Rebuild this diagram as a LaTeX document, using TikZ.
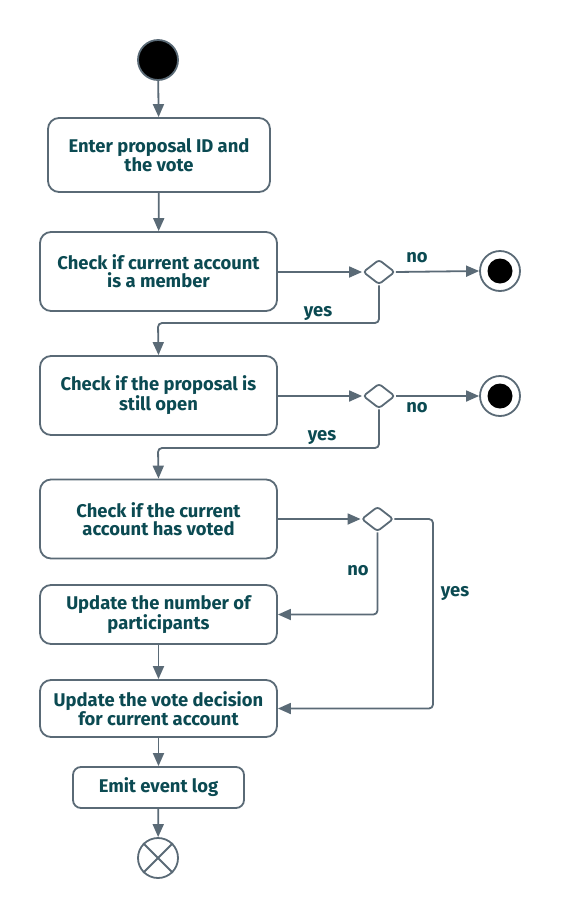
\documentclass[tikz,border=0pt]{standalone}
\usepackage{fontspec}
\setmainfont{Fira Sans}
\usetikzlibrary{arrows.meta,shapes.geometric}
\definecolor{ln}{HTML}{5A6A76}
\definecolor{tx}{HTML}{0B4A52}
\tikzset{
  act/.style={draw=ln,line width=1.8pt,rounded corners=11pt,fill=white,align=center,text=tx,font=\bfseries\fontsize{18.4}{18}\selectfont,inner sep=0pt},
  dec/.style={draw=ln,line width=1.8pt,diamond,minimum width=32pt,minimum height=25pt,inner sep=0pt,rounded corners=3pt,fill=white},
  flow/.style={draw=ln,line width=1.8pt,-{Triangle[length=13pt,width=11pt]},rounded corners=4pt},
  lbl/.style={text=tx,font=\bfseries\fontsize{18.4}{18}\selectfont},
}
\begin{document}
\begin{tikzpicture}[x=1pt,y=-1pt]
\useasboundingbox (0,0) rectangle (560,919);
\node[circle,draw=ln,line width=1.8pt,fill=black,minimum size=40pt,inner sep=0pt] (start) at (158,60) {};
\node[act,minimum width=222pt,minimum height=74pt] (b1) at (159,155) {Enter proposal ID and\\the vote};
\node[act,minimum width=237pt,minimum height=79pt] (b2) at (158.5,271.5) {Check if current account\\is a member};
\node[act,minimum width=237pt,minimum height=79pt] (b3) at (158.5,395.5) {Check if the proposal is\\still open};
\node[act,minimum width=237pt,minimum height=79pt] (b4) at (158.5,519) {Check if the current\\account has voted};
\node[act,minimum width=237pt,minimum height=59pt] (b5) at (158.5,614.5) {Update the number of\\participants};
\node[act,minimum width=237pt,minimum height=57pt] (b6) at (158.5,708.5) {Update the vote decision\\for current account};
\node[act,minimum width=171pt,minimum height=41pt,rounded corners=8pt] (b7) at (158.5,787.5) {Emit event log};
\node[dec] (d1) at (379,272) {};
\node[dec] (d2) at (379,396) {};
\node[dec] (d3) at (377.5,519) {};
\node[circle,draw=ln,line width=1.8pt,fill=white,minimum size=40pt,inner sep=0pt] (f1) at (500,271) {};
\node[circle,fill=black,minimum size=25pt,inner sep=0pt] at (f1) {};
\node[circle,draw=ln,line width=1.8pt,fill=white,minimum size=40pt,inner sep=0pt] (f2) at (500,396) {};
\node[circle,fill=black,minimum size=25pt,inner sep=0pt] at (f2) {};
\node[circle,draw=ln,line width=1.8pt,minimum size=40pt,inner sep=0pt] (fe) at (158,858) {};
\draw[ln,line width=1.8pt] (fe.north east) -- (fe.south west) (fe.north west) -- (fe.south east);
\draw[flow] (start) -- (b1);
\draw[flow] (b1) -- (b2);
\draw[flow] (b2.east |- d1) -- (d1.west);
\draw[flow] (d1.east) -- (f1.west);
\draw[flow] (d1.south) |- (158,323) -- (b3.north);
\draw[flow] (b3.east |- d2) -- (d2.west);
\draw[flow] (d2.east) -- (f2.west);
\draw[flow] (d2.south) |- (158,448) -- (b4.north);
\draw[flow] (b4.east |- d3) -- (d3.west);
\draw[flow] (d3.south) |- (b5.east);
\draw[flow] (d3.east) -| (433,600) |- (b6.east);
\draw[flow] (b5) -- (b6);
\draw[flow] (b6) -- (b7);
\draw[flow] (b7) -- (fe);
\node[lbl] (l1) at (417,258) {no};
\node[lbl] (l2) at (318,313) {yes};
\node[lbl] (l3) at (417,408) {no};
\node[lbl] (l4) at (322,437) {yes};
\node[lbl] (l5) at (358,571) {no};
\node[lbl] (l6) at (455,593) {yes};
\end{tikzpicture}
\end{document}
